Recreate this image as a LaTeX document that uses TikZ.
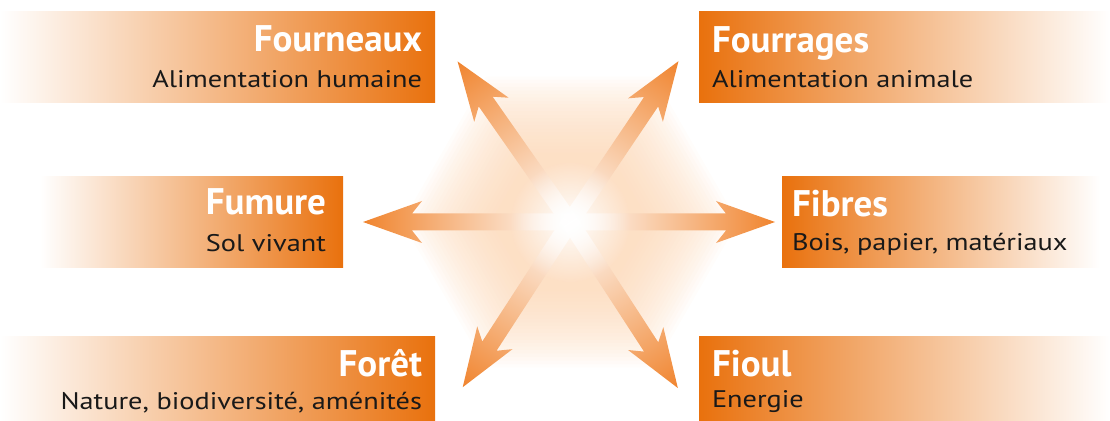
\documentclass[tikz,border=0pt]{standalone}
\usepackage{fontspec}
\setmainfont{PT Sans}
\newfontfamily\subfont[FakeStretch=1.18]{PT Sans}
\usetikzlibrary{positioning,fadings}

\definecolor{boxorange}{RGB}{233,113,13}
\definecolor{arroworange}{RGB}{240,132,46}
\definecolor{glowpeach}{RGB}{252,212,176}
\definecolor{inktext}{RGB}{25,25,25}

\tikzfading[name=spotfade, inner color=transparent!0, outer color=transparent!100]

\tikzset{
  band/.style={rectangle, inner sep=0pt, minimum height=91pt, minimum width=#1},
  bandleft/.style={band=#1, left color=white, middle color=boxorange!25, right color=boxorange},
  bandright/.style={band=#1, left color=boxorange, middle color=boxorange!25, right color=white},
  headline/.style={inner sep=0pt, text=white, font=\fontsize{37}{40}\selectfont\bfseries},
  subline/.style={inner sep=0pt, text=inktext, font=\subfont\fontsize{24}{26}\selectfont},
  ray/.style={left color=white, middle color=arroworange!55, right color=arroworange},
}

\begin{document}
\begin{tikzpicture}[x=1pt,y=1pt]

\useasboundingbox (0,0) rectangle (1110,420);

% ------------------------------------------------------------------
% Glow behind the star
% ------------------------------------------------------------------
\coordinate (hub) at (570,198);
\foreach \r in {80,84,...,170}
  \fill[glowpeach, opacity=0.055, shift={(hub)}]
    (0:\r) -- (60:\r) -- (120:\r) -- (180:\r) -- (240:\r) -- (300:\r) -- cycle;

% ------------------------------------------------------------------
% Six arrows leaving the hub
% ------------------------------------------------------------------
\foreach \ang/\len in {0/205, 56/194, 125/196, 180/207, 237/197, 303/198} {
  \begin{scope}[transform canvas={shift={(hub)}, rotate=\ang}]
    \shade[ray] (0,8.5) -- ({\len-49},8.5) -- ({\len-59},21) -- (\len,0)
      -- ({\len-59},-21) -- ({\len-49},-8.5) -- (0,-8.5) -- cycle;
  \end{scope}
}
\fill[white, path fading=spotfade] (hub) circle (60);

% ------------------------------------------------------------------
% Bands on the left
% ------------------------------------------------------------------
\node[bandleft=435] (fourneaux) at (217.5,362.5) {};
\node[bandleft=303] (fumure)    at (191.5,197.5) {};
\node[bandleft=435] (foret)     at (217.5,37.5) {};

\node[headline, anchor=base east] (fourneauxT) at ([xshift=-13, yshift=-40]fourneaux.north east) {Fourneaux};
\node[subline,  anchor=base east] (fourneauxS) at ([xshift=-13, yshift=-76]fourneaux.north east) {Alimentation humaine};

\node[headline, anchor=base east] (fumureT) at ([xshift=-17, yshift=-38]fumure.north east) {Fumure};
\node[subline,  anchor=base east] (fumureS) at ([xshift=-17, yshift=-75]fumure.north east) {Sol vivant};

\node[headline, anchor=base east] (foretT) at ([xshift=-13, yshift=-40]foret.north east) {Forêt};
\node[subline,  anchor=base east] (foretS) at ([xshift=-13, yshift=-73]foret.north east) {Nature, biodiversité, aménités};

% ------------------------------------------------------------------
% Bands on the right
% ------------------------------------------------------------------
\node[bandright=411] (fourrages) at (904.5,362.5) {};
\node[bandright=318] (fibres)    at (941,197.5) {};
\node[bandright=411] (fioul)     at (904.5,37.5) {};

\node[headline, anchor=base west] (fourragesT) at ([xshift=13, yshift=-41]fourrages.north west) {Fourrages};
\node[subline,  anchor=base west] (fourragesS) at ([xshift=13, yshift=-76]fourrages.north west) {Alimentation animale};

\node[headline, anchor=base west] (fibresT) at ([xshift=10, yshift=-40]fibres.north west) {Fibres};
\node[subline,  anchor=base west] (fibresS) at ([xshift=10, yshift=-74]fibres.north west) {Bois, papier, matériaux};

\node[headline, anchor=base west] (fioulT) at ([xshift=13, yshift=-40]fioul.north west) {Fioul};
\node[subline,  anchor=base west] (fioulS) at ([xshift=13, yshift=-71]fioul.north west) {Energie};

\end{tikzpicture}
\end{document}
